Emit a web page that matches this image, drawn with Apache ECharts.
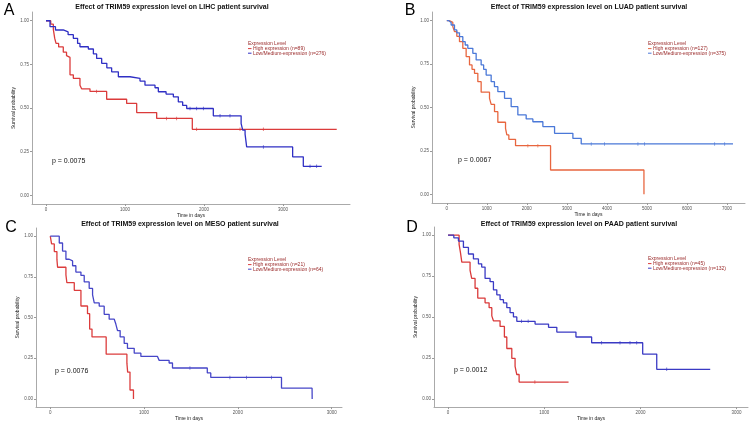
<!DOCTYPE html>
<html>
<head>
<meta charset="utf-8">
<script src="https://cdn.jsdelivr.net/npm/echarts@6/dist/echarts.min.js"></script>
<style>
html,body{margin:0;padding:0;background:#fff;}
#main{width:750px;height:422px;}
</style>
</head>
<body>
<div id="main"></div>
<script>
// KM curves, [days, survival] at each step
var lihcHigh = [[0,1],[60,0.98],[93,0.95],[110,0.90],[127,0.87],[160,0.85],[219,0.82],[260,0.80],[283,0.79],[304,0.69],[346,0.67],[430,0.63],[451,0.61],[557,0.595],[768,0.55],[1021,0.526],[1148,0.474],[1401,0.44],[1852,0.378],[3680,0.378]];
var lihcLow = [[0,1],[51,0.966],[120,0.947],[219,0.936],[280,0.92],[346,0.899],[400,0.87],[430,0.851],[536,0.838],[600,0.81],[641,0.784],[705,0.756],[770,0.73],[831,0.707],[916,0.679],[1063,0.67],[1190,0.654],[1253,0.631],[1380,0.616],[1422,0.593],[1520,0.58],[1612,0.564],[1675,0.535],[1730,0.515],[1781,0.497],[2118,0.455],[2470,0.411],[2490,0.373],[2520,0.35],[2540,0.277],[3122,0.22],[3257,0.166],[3490,0.166]];

var luadHigh = [[0,1],[60,0.99],[150,0.966],[192,0.937],[250,0.91],[317,0.879],[400,0.841],[483,0.793],[567,0.745],[630,0.72],[692,0.697],[775,0.649],[858,0.588],[1067,0.553],[1108,0.518],[1192,0.476],[1275,0.415],[1467,0.38],[1500,0.342],[1550,0.317],[1717,0.28],[2592,0.14],[4925,0.14],[4926,0]];
var luadLow = [[0,1],[50,0.99],[108,0.975],[192,0.947],[250,0.93],[317,0.908],[400,0.879],[460,0.86],[525,0.841],[650,0.812],[733,0.774],[858,0.745],[920,0.72],[983,0.687],[1108,0.649],[1190,0.62],[1275,0.591],[1442,0.553],[1608,0.505],[1775,0.457],[1983,0.434],[2150,0.418],[2400,0.39],[2692,0.351],[3150,0.322],[3358,0.29],[7150,0.29]];

var mesoHigh = [[0,1],[14,0.952],[43,0.905],[71,0.857],[78,0.809],[167,0.762],[177,0.714],[256,0.667],[327,0.571],[397,0.524],[420,0.429],[445,0.381],[596,0.275],[817,0.22],[825,0.165],[850,0.055],[887,0]];
var mesoLow = [[0,1],[96,0.958],[131,0.908],[167,0.858],[202,0.848],[238,0.818],[273,0.779],[327,0.759],[362,0.719],[415,0.679],[451,0.639],[469,0.59],[522,0.57],[575,0.52],[628,0.49],[682,0.48],[699,0.46],[717,0.42],[745,0.381],[788,0.341],[823,0.311],[895,0.281],[966,0.261],[1143,0.251],[1161,0.237],[1267,0.221],[1303,0.19],[1674,0.16],[1711,0.132],[2465,0.066],[2791,0.066],[2792,0]];

var paadHigh = [[0,1],[115,0.944],[130,0.89],[143,0.835],[229,0.785],[246,0.736],[281,0.676],[309,0.616],[385,0.587],[427,0.557],[455,0.507],[472,0.477],[541,0.443],[586,0.378],[611,0.308],[663,0.248],[697,0.199],[715,0.149],[739,0.103],[1253,0.103]];
var paadLow = [[0,1],[60,0.984],[108,0.964],[160,0.925],[212,0.885],[264,0.855],[316,0.825],[350,0.805],[385,0.736],[437,0.716],[472,0.666],[507,0.636],[541,0.606],[576,0.587],[611,0.557],[645,0.527],[680,0.501],[715,0.474],[905,0.457],[1045,0.437],[1131,0.408],[1330,0.378],[1493,0.343],[2024,0.274],[2170,0.181],[2726,0.181]];

// censored marks
var lihcHighCens = [[641,0.595],[1527,0.44],[1654,0.44],[1907,0.378],[2456,0.378],[2751,0.378]];
var lihcLowCens = [[1823,0.497],[1907,0.497],[1992,0.497],[2203,0.455],[2329,0.455],[2751,0.277],[3342,0.166],[3426,0.166]];
var luadHighCens = [[2025,0.28],[2275,0.28]];
var luadLowCens = [[3608,0.29],[3942,0.29],[4775,0.29],[4942,0.29],[6692,0.29],[6942,0.29]];
var mesoLowCens = [[1489,0.19],[1915,0.132],[2092,0.132],[2358,0.132]];
var paadHighCens = [[903,0.103]];
var paadLowCens = [[764,0.474],[833,0.474],[1597,0.343],[1788,0.343],[1892,0.343],[1962,0.343],[2274,0.181]];

var xTicks4 = [0,1000,2000,3000];
var xTicks8 = [0,1000,2000,3000,4000,5000,6000,7000];
var yTicks = [0,0.25,0.5,0.75,1];

var titles = ['Effect of TRIM59 expression level on LIHC patient survival','Effect of TRIM59 expression level on LUAD patient survival','Effect of TRIM59 expression level on MESO patient survival','Effect of TRIM59 expression level on PAAD patient survival'];
var letters = ['A','B','C','D'];
var pValues = ['p = 0.0075','p = 0.0067','p = 0.0076','p = 0.0012'];
var legendLabels = [['High expression (n=89)','Low/Medium-expression (n=276)'],['High expression (n=127)','Low/Medium-expression (n=375)'],['High expression (n=21)','Low/Medium-expression (n=64)'],['High expression (n=45)','Low/Medium-expression (n=132)']];

var FONT = 'Liberation Sans, Arial, sans-serif';
var redCol = ['#db3b3b','#e8663f','#dc3c3c','#da3a3a'];
var blueCol = ['#2f2fc4','#4a78d8','#4646c8','#3a3ac4'];

var grids = [
    {left:32, top:12, width:318, height:192},
    {left:432, top:12, width:313, height:191},
    {left:36, top:228, width:306, height:184},
    {left:434, top:227, width:314, height:185}
];
var xRange = [[-177,3848],[-370,7450],[-152,3110],[-146,3119]];
var xTicks = [xTicks4, xTicks8, xTicks4, xTicks4];

function xAx(i){
    return {
        gridIndex:i, type:'value', min:xRange[i][0], max:xRange[i][1],
        name:'Time in days', nameLocation:'middle', nameGap:6,
        nameTextStyle:{fontSize:5, color:'#222', fontFamily:FONT},
        axisLine:{onZero:false, lineStyle:{color:'#aaa', width:1}},
        axisTick:{customValues:xTicks[i], length:2, lineStyle:{color:'#999'}},
        axisLabel:{customValues:xTicks[i], fontSize:4.5, color:'#555', margin:3, fontFamily:FONT,
            formatter:function(v){ return String(v); }},
        splitLine:{show:false}
    };
}
function yAx(i){
    return {
        gridIndex:i, type:'value', min:-0.05, max:1.05,
        name:'Survival probability', nameLocation:'middle', nameGap:14, nameRotate:90,
        nameTextStyle:{fontSize:5, color:'#222', fontFamily:FONT},
        axisLine:{onZero:false, lineStyle:{color:'#aaa', width:1}},
        axisTick:{customValues:yTicks, length:2, lineStyle:{color:'#999'}},
        axisLabel:{customValues:yTicks, fontSize:4.5, color:'#555', margin:3, fontFamily:FONT,
            formatter:function(v){ return v.toFixed(2); }},
        splitLine:{show:false}
    };
}
function km(i, data, color){
    return {type:'line', xAxisIndex:i, yAxisIndex:i, data:data, step:'end',
        showSymbol:false, lineStyle:{color:color, width:1.3}, silent:true};
}
function cens(i, data, color){
    return {type:'scatter', xAxisIndex:i, yAxisIndex:i, data:data,
        symbol:'rect', symbolSize:[0.8,3.5], itemStyle:{color:color}, silent:true};
}

var curves = [[lihcHigh,lihcLow],[luadHigh,luadLow],[mesoHigh,mesoLow],[paadHigh,paadLow]];
var censored = [[lihcHighCens,lihcLowCens],[luadHighCens,luadLowCens],[[],mesoLowCens],[paadHighCens,paadLowCens]];

var series = [];
for (var i=0;i<4;i++){
    series.push(km(i, curves[i][0], redCol[i]));
    series.push(km(i, curves[i][1], blueCol[i]));
    series.push(cens(i, censored[i][0], redCol[i]));
    series.push(cens(i, censored[i][1], blueCol[i]));
}

// text bits: panel letters, titles, p values, legends
var titlePos = [[172,7],[589,7],[180,224],[579,224]];
var letterPos = [[9,11],[410,11],[11,228],[412,228]];
var pPos = [[52,161],[458,160],[55,371],[454,370]];
var legendPos = [[248,44],[648,44],[248,260],[648,259]];

var graphic = [];
for (var j=0;j<4;j++){
    graphic.push({type:'text', x:titlePos[j][0], y:titlePos[j][1],
        style:{text:titles[j], font:'bold 7px '+FONT, fill:'#111', textAlign:'center', textVerticalAlign:'middle'}});
    graphic.push({type:'text', x:letterPos[j][0], y:letterPos[j][1],
        style:{text:letters[j], font:'16px '+FONT, fill:'#000', textAlign:'center', textVerticalAlign:'middle'}});
    graphic.push({type:'text', x:pPos[j][0], y:pPos[j][1],
        style:{text:pValues[j], font:'7px '+FONT, fill:'#111', textVerticalAlign:'middle'}});
    var lx = legendPos[j][0], ly = legendPos[j][1];
    graphic.push({type:'text', x:lx, y:ly,
        style:{text:'Expression Level', font:'5px '+FONT, fill:'#9a2a2a', textVerticalAlign:'middle'}});
    graphic.push({type:'line', shape:{x1:lx, y1:ly+4.6, x2:lx+3.5, y2:ly+4.6}, style:{stroke:redCol[j], lineWidth:1}});
    graphic.push({type:'line', shape:{x1:lx, y1:ly+9.2, x2:lx+3.5, y2:ly+9.2}, style:{stroke:blueCol[j], lineWidth:1}});
    graphic.push({type:'text', x:lx+5, y:ly+4.6,
        style:{text:legendLabels[j][0], font:'5px '+FONT, fill:'#9a2a2a', textVerticalAlign:'middle'}});
    graphic.push({type:'text', x:lx+5, y:ly+9.2,
        style:{text:legendLabels[j][1], font:'5px '+FONT, fill:'#9a2a2a', textVerticalAlign:'middle'}});
}

var myChart = echarts.init(document.getElementById('main'), null, {renderer:'canvas'});
var option = {
    backgroundColor:'#fff',
    animation:false,
    grid:grids,
    xAxis:[xAx(0),xAx(1),xAx(2),xAx(3)],
    yAxis:[yAx(0),yAx(1),yAx(2),yAx(3)],
    series:series,
    graphic:graphic
};
myChart.setOption(option);
</script>
</body>
</html>
